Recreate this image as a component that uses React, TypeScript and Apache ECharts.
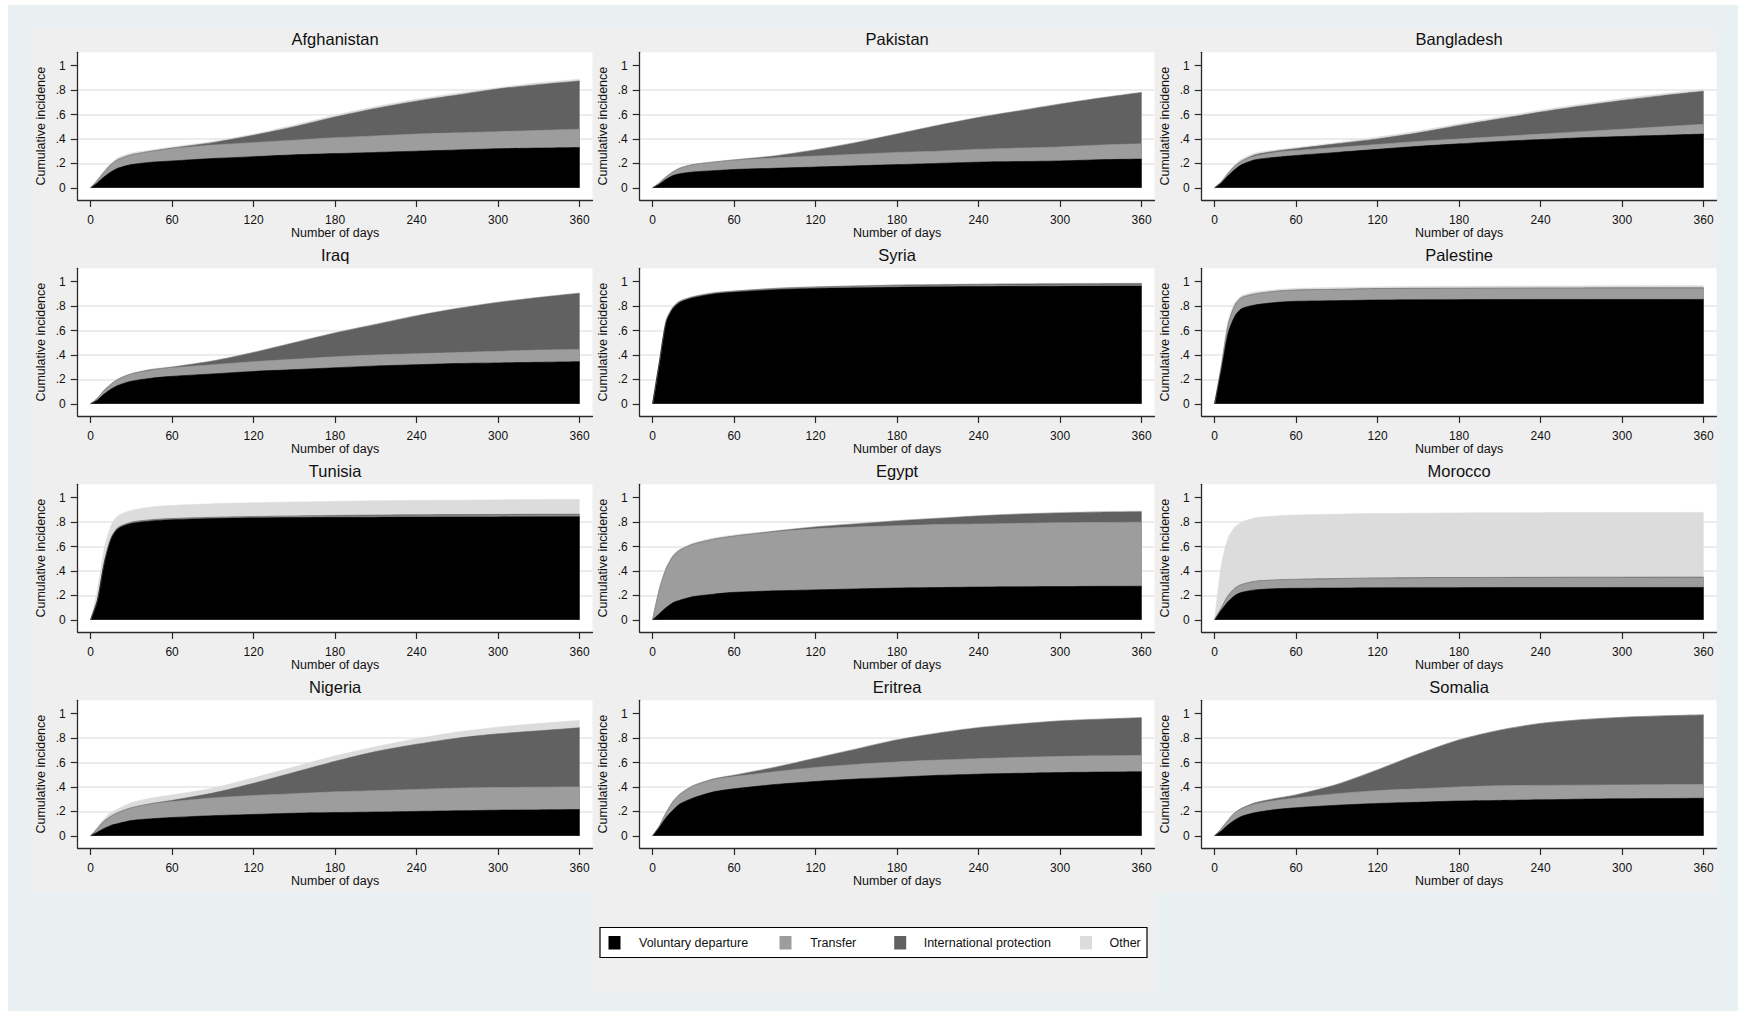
import React, { useEffect, useRef } from 'react';
import * as echarts from 'echarts';

// ---------- data ----------
const DAYS = [0, 5, 10, 15, 20, 30, 45, 60, 90, 120, 150, 180, 210, 240, 270, 300, 330, 360];
const X_TICKS = [0, 60, 120, 180, 240, 300, 360];
const Y_TICKS = [0, 0.2, 0.4, 0.6, 0.8, 1];
const Y_TICK_LABELS = ['0', '.2', '.4', '.6', '.8', '1'];
const SERIES_NAMES = ['Voluntary departure', 'Transfer', 'International protection', 'Other'];
const COUNTRIES = ['Afghanistan', 'Pakistan', 'Bangladesh', 'Iraq', 'Syria', 'Palestine', 'Tunisia', 'Egypt', 'Morocco', 'Nigeria', 'Eritrea', 'Somalia'];

// cumulative upper boundary of each layer
const AFG_VOL = [0, .04, .09, .13, .16, .19, .21, .22, .24, .255, .27, .28, .29, .30, .31, .32, .325, .33];
const AFG_TRA = [0, .06, .13, .19, .23, .27, .30, .32, .35, .37, .39, .41, .425, .44, .45, .46, .47, .48];
const AFG_IP = [0, .06, .13, .19, .23, .27, .30, .325, .37, .43, .50, .58, .65, .71, .76, .81, .845, .875];
const AFG_OTH = [0, .07, .14, .20, .245, .285, .31, .335, .38, .44, .515, .595, .665, .725, .775, .82, .86, .89];

const PAK_VOL = [0, .03, .07, .10, .115, .13, .14, .15, .16, .17, .18, .19, .20, .21, .215, .22, .23, .235];
const PAK_TRA = [0, .04, .09, .13, .16, .19, .21, .225, .245, .26, .275, .29, .30, .315, .325, .335, .35, .36];
const PAK_IP = [0, .04, .09, .13, .16, .19, .21, .228, .26, .31, .37, .44, .51, .575, .63, .685, .735, .78];
const PAK_OTH = [0, .045, .095, .135, .165, .195, .215, .232, .265, .315, .375, .445, .515, .58, .635, .69, .74, .785];

const BGD_VOL = [0, .04, .10, .15, .19, .23, .25, .265, .29, .315, .34, .36, .38, .395, .41, .42, .43, .44];
const BGD_TRA = [0, .05, .12, .18, .22, .26, .29, .305, .33, .355, .38, .40, .42, .44, .46, .48, .50, .52];
const BGD_IP = [0, .05, .12, .18, .22, .27, .30, .32, .36, .40, .45, .51, .565, .62, .67, .715, .755, .79];
const BGD_OTH = [0, .055, .125, .19, .235, .285, .31, .33, .37, .415, .465, .525, .58, .635, .685, .73, .77, .805];

const IRQ_VOL = [0, .03, .08, .12, .15, .185, .21, .225, .245, .265, .28, .295, .31, .32, .33, .335, .34, .345];
const IRQ_TRA = [0, .045, .11, .16, .20, .245, .275, .295, .32, .345, .365, .385, .40, .41, .42, .43, .44, .445];
const IRQ_IP = [0, .045, .11, .16, .20, .245, .28, .30, .35, .42, .50, .58, .65, .72, .78, .83, .87, .905];
const IRQ_OTH = [0, .05, .115, .165, .205, .25, .285, .305, .355, .425, .505, .585, .655, .725, .785, .835, .875, .91];

const SYR_VOL = [0, .34, .67, .78, .83, .87, .90, .915, .935, .945, .95, .955, .958, .96, .962, .963, .964, .965];
const SYR_TRA = [0, .34, .68, .79, .84, .875, .905, .92, .94, .95, .957, .962, .966, .968, .97, .972, .973, .974];
const SYR_IP = [0, .34, .68, .79, .84, .877, .908, .923, .945, .957, .965, .972, .976, .979, .981, .983, .984, .985];
const SYR_OTH = [0, .35, .69, .80, .845, .882, .912, .927, .948, .96, .968, .975, .979, .982, .985, .987, .988, .99];

const PSE_VOL = [0, .28, .58, .72, .78, .81, .83, .84, .845, .85, .852, .853, .854, .855, .855, .855, .855, .855];
const PSE_TRA = [0, .31, .65, .81, .87, .90, .92, .93, .935, .94, .942, .943, .944, .945, .945, .945, .945, .945];
const PSE_IP = [0, .31, .65, .81, .87, .90, .922, .932, .938, .944, .946, .947, .948, .949, .949, .95, .95, .95];
const PSE_OTH = [0, .33, .68, .83, .885, .915, .935, .945, .952, .957, .96, .962, .964, .965, .966, .967, .968, .968];

const TUN_VOL = [0, .16, .46, .66, .745, .79, .81, .82, .83, .835, .838, .84, .841, .842, .843, .843, .844, .845];
const TUN_TRA = [0, .16, .47, .67, .75, .795, .815, .825, .835, .84, .845, .848, .85, .851, .852, .853, .854, .855];
const TUN_IP = [0, .16, .47, .67, .755, .80, .82, .83, .84, .846, .851, .855, .858, .86, .862, .863, .864, .865];
const TUN_OTH = [0, .24, .58, .77, .85, .895, .925, .937, .95, .958, .965, .97, .975, .978, .98, .982, .984, .985];

const EGY_VOL = [0, .05, .10, .14, .16, .19, .21, .225, .237, .245, .253, .26, .264, .268, .27, .272, .274, .275];
const EGY_TRA = [0, .25, .42, .52, .57, .62, .66, .685, .72, .745, .76, .77, .78, .785, .79, .795, .797, .80];
const EGY_IP = [0, .25, .42, .52, .57, .62, .66, .686, .725, .76, .785, .81, .83, .85, .865, .875, .882, .885];
const EGY_OTH = [0, .26, .43, .53, .58, .63, .67, .695, .73, .765, .79, .815, .835, .855, .87, .88, .888, .892];

const MAR_VOL = [0, .08, .15, .20, .225, .245, .255, .258, .26, .262, .263, .263, .264, .264, .264, .265, .265, .265];
const MAR_TRA = [0, .10, .20, .26, .29, .315, .325, .33, .335, .34, .341, .342, .343, .343, .344, .344, .345, .345];
const MAR_IP = [0, .10, .20, .26, .29, .316, .327, .332, .338, .343, .345, .346, .347, .348, .349, .349, .35, .35];
const MAR_OTH = [0, .45, .67, .76, .80, .835, .85, .858, .865, .87, .873, .875, .876, .877, .878, .878, .879, .88];

const NGA_VOL = [0, .03, .06, .085, .10, .125, .14, .15, .165, .175, .185, .19, .195, .20, .205, .21, .212, .215];
const NGA_TRA = [0, .06, .12, .16, .19, .23, .26, .28, .31, .33, .345, .36, .37, .38, .39, .395, .398, .40];
const NGA_IP = [0, .06, .12, .16, .19, .23, .265, .29, .35, .43, .52, .61, .69, .75, .80, .835, .86, .885];
const NGA_OTH = [0, .07, .14, .19, .22, .27, .31, .335, .39, .475, .565, .655, .73, .795, .85, .89, .92, .945];

const ERI_VOL = [0, .07, .15, .21, .26, .31, .36, .385, .42, .445, .465, .48, .495, .505, .512, .518, .522, .525];
const ERI_TRA = [0, .08, .19, .28, .34, .41, .46, .485, .525, .56, .585, .605, .62, .632, .642, .65, .655, .658];
const ERI_IP = [0, .08, .19, .28, .34, .41, .465, .495, .56, .635, .71, .785, .84, .885, .915, .94, .955, .967];
const ERI_OTH = [0, .085, .195, .285, .345, .415, .47, .50, .565, .64, .715, .79, .845, .89, .92, .945, .958, .97];

const SOM_VOL = [0, .04, .09, .13, .16, .19, .215, .23, .25, .265, .275, .285, .29, .295, .30, .303, .305, .308];
const SOM_TRA = [0, .06, .13, .19, .22, .26, .29, .31, .345, .37, .385, .40, .41, .413, .415, .417, .419, .42];
const SOM_IP = [0, .06, .13, .19, .225, .27, .305, .335, .42, .54, .67, .785, .865, .92, .95, .97, .982, .99];
const SOM_OTH = [0, .062, .132, .192, .228, .273, .308, .338, .423, .543, .673, .788, .868, .923, .953, .973, .985, .993];

const PANELS = [
  [AFG_VOL, AFG_TRA, AFG_IP, AFG_OTH],
  [PAK_VOL, PAK_TRA, PAK_IP, PAK_OTH],
  [BGD_VOL, BGD_TRA, BGD_IP, BGD_OTH],
  [IRQ_VOL, IRQ_TRA, IRQ_IP, IRQ_OTH],
  [SYR_VOL, SYR_TRA, SYR_IP, SYR_OTH],
  [PSE_VOL, PSE_TRA, PSE_IP, PSE_OTH],
  [TUN_VOL, TUN_TRA, TUN_IP, TUN_OTH],
  [EGY_VOL, EGY_TRA, EGY_IP, EGY_OTH],
  [MAR_VOL, MAR_TRA, MAR_IP, MAR_OTH],
  [NGA_VOL, NGA_TRA, NGA_IP, NGA_OTH],
  [ERI_VOL, ERI_TRA, ERI_IP, ERI_OTH],
  [SOM_VOL, SOM_TRA, SOM_IP, SOM_OTH],
];

// ---------- style / layout ----------
const COLORS = ['#000000', '#9d9d9d', '#616161', '#dcdcdc'];
const FONT = '"Liberation Sans", Arial, Helvetica, sans-serif';
const TEXT = '#111111';
const AXIS = '#2a2a2a';
const PLOT_LEFT = [77.7, 639.7, 1201.7];
const PLOT_TOP = [52.3, 268.3, 484.3, 700.3];
const PLOT_W = 514.8;
const PLOT_H = 147.7;

function yFmt(v: number) {
  const idx = Y_TICKS.findIndex((t) => Math.abs(t - v) < 1e-6);
  return idx >= 0 ? Y_TICK_LABELS[idx] : '';
}
function xFmt(v: number) {
  return X_TICKS.some((t) => Math.abs(t - v) < 1e-6) ? String(v) : '';
}

function buildOption() {
  const grids: any[] = [];
  const xAxes: any[] = [];
  const yAxes: any[] = [];
  const series: any[] = [];
  const graphics: any[] = [];

  graphics.push({ type: 'rect', z: -20, silent: true, shape: { x: 8, y: 5, width: 1730, height: 1006 }, style: { fill: '#e8f0f2' } });
  graphics.push({ type: 'rect', z: -19, silent: true, shape: { x: 30.6, y: 28.3, width: 1686.6, height: 864.4 }, style: { fill: '#efefef' } });
  graphics.push({ type: 'rect', z: -19, silent: true, shape: { x: 591, y: 892, width: 563.5, height: 100.5 }, style: { fill: '#efefef' } });

  PANELS.forEach((layers, i) => {
    const c = i % 3;
    const r = Math.floor(i / 3);
    const left = PLOT_LEFT[c];
    const top = PLOT_TOP[r];
    grids.push({ left, top, width: PLOT_W, height: PLOT_H, containLabel: false });
    graphics.push({ type: 'rect', z: -18, silent: true, shape: { x: left, y: top, width: PLOT_W, height: PLOT_H }, style: { fill: '#ffffff' } });
    graphics.push({
      type: 'text', z: 50, silent: true, x: left + PLOT_W / 2, y: top - 13.5,
      style: { text: COUNTRIES[i], fill: TEXT, fontSize: 16.5, fontFamily: FONT, align: 'center', verticalAlign: 'middle', textAlign: 'center', textVerticalAlign: 'middle' },
    });
    xAxes.push({
      type: 'value', gridIndex: i, min: -9.5, max: 369.5,
      axisLine: { show: true, onZero: false, lineStyle: { color: AXIS, width: 1.3 } },
      axisTick: { show: true, customValues: X_TICKS, length: 7, lineStyle: { color: AXIS, width: 1.2 } },
      axisLabel: { show: true, customValues: X_TICKS, margin: 13.5, fontSize: 12, color: TEXT, fontFamily: FONT, formatter: xFmt },
      splitLine: { show: false },
      name: 'Number of days', nameLocation: 'middle', nameGap: 26.5,
      nameTextStyle: { fontSize: 12.5, color: TEXT, fontFamily: FONT },
    });
    yAxes.push({
      type: 'value', gridIndex: i, min: -0.1, max: 1.11,
      axisLine: { show: true, onZero: false, lineStyle: { color: AXIS, width: 1.3 } },
      axisTick: { show: true, customValues: Y_TICKS, length: 7, lineStyle: { color: AXIS, width: 1.2 } },
      axisLabel: { show: true, customValues: Y_TICKS, margin: 12, fontSize: 12, color: TEXT, fontFamily: FONT, formatter: yFmt },
      splitLine: { show: true, showMinLine: false, showMaxLine: false, lineStyle: { color: '#e6e6e6', width: 1.6 } },
      name: 'Cumulative incidence', nameLocation: 'middle', nameGap: 30, nameRotate: 90,
      nameTextStyle: { fontSize: 12.5, color: TEXT, fontFamily: FONT },
    });
    // draw from the outermost boundary to the innermost so inner layers overlay
    [3, 2, 1, 0].forEach((k) => {
      series.push({
        type: 'line', name: SERIES_NAMES[k], xAxisIndex: i, yAxisIndex: i,
        data: DAYS.map((d, j) => [d, layers[k][j]]),
        showSymbol: false, symbol: 'none', smooth: 0.25,
        lineStyle: { width: 0.6, color: COLORS[k] },
        areaStyle: { color: COLORS[k], opacity: 1, origin: 'auto' },
        itemStyle: { color: COLORS[k] },
        silent: true, animation: false,
      });
    });
  });

  // legend (drawn as graphic)
  graphics.push({ type: 'rect', z: 40, silent: true, shape: { x: 600, y: 927.5, width: 547, height: 30 }, style: { fill: '#ffffff', stroke: '#000000', lineWidth: 1.2 } });
  const sqX = [608.5, 779.5, 894.2, 1080];
  const txX = [639, 810.2, 923.7, 1109.5];
  SERIES_NAMES.forEach((name, k) => {
    graphics.push({ type: 'rect', z: 45, silent: true, shape: { x: sqX[k], y: 936, width: 12, height: 13.5 }, style: { fill: COLORS[k] } });
    graphics.push({
      type: 'text', z: 45, silent: true, x: txX[k], y: 942.8,
      style: { text: name, fill: TEXT, fontSize: 12.5, fontFamily: FONT, align: 'left', verticalAlign: 'middle', textAlign: 'left', textVerticalAlign: 'middle' },
    });
  });

  return {
    animation: false,
    backgroundColor: '#ffffff',
    grid: grids,
    xAxis: xAxes,
    yAxis: yAxes,
    series,
    graphic: { elements: graphics },
  };
}

export default function App() {
  const ref = useRef<HTMLDivElement>(null);
  useEffect(() => {
    if (!ref.current) return;
    const chart = echarts.init(ref.current, null, { renderer: 'svg' });
    chart.setOption(buildOption() as any);
    return () => chart.dispose();
  }, []);
  return (
    <div
      ref={ref}
      style={{ position: 'absolute', left: 0, top: 0, width: 1738, height: 1013, background: '#ffffff' }}
    />
  );
}
